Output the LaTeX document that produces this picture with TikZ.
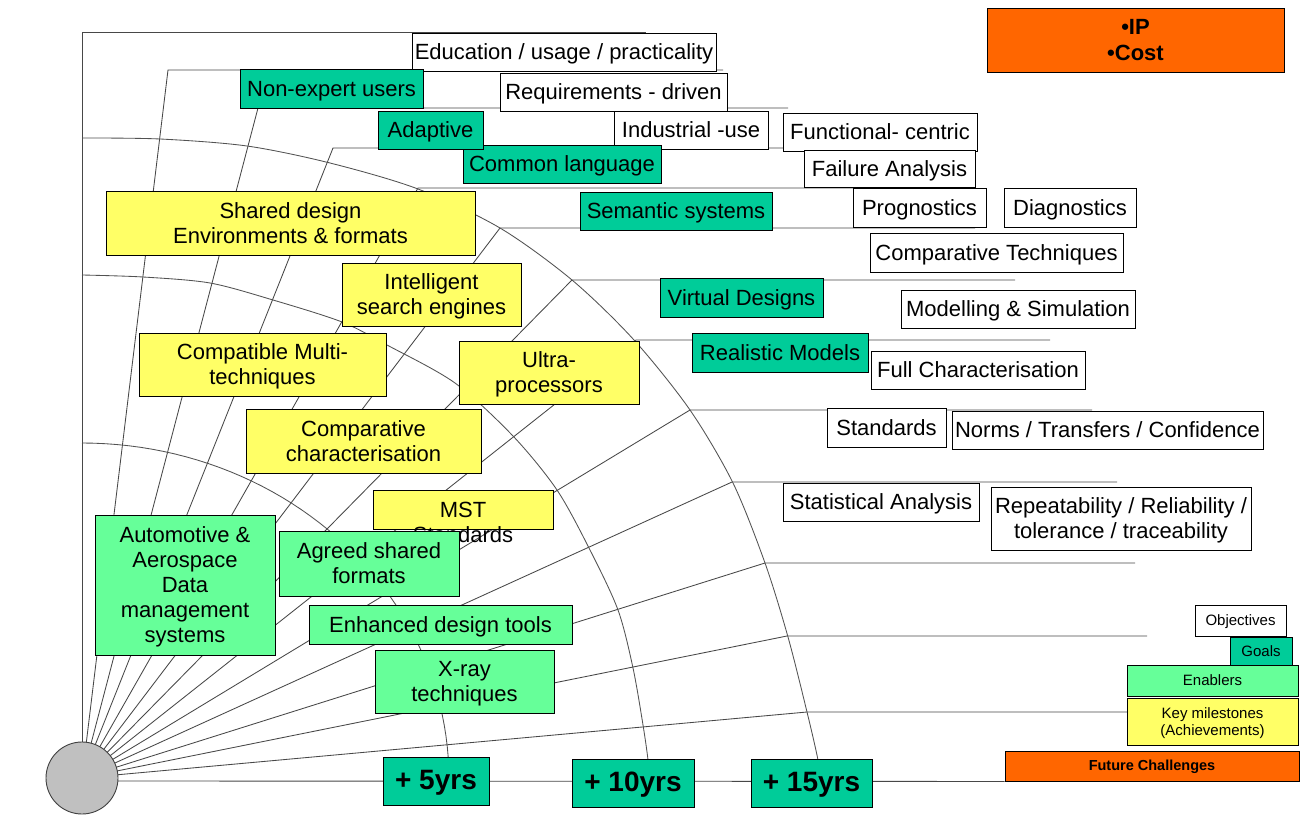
\documentclass[tikz,border=0pt]{standalone}
\usepackage{fontspec}
\setmainfont{Liberation Sans}
\definecolor{cteal}{HTML}{00CC99}
\definecolor{cgreen}{HTML}{66FF99}
\definecolor{cyellow}{HTML}{FFFF66}
\definecolor{corange}{HTML}{FF6600}
\definecolor{chub}{HTML}{C0C0C0}
\newcommand\lstrut{\rule[-0.212em]{0pt}{1.117em}}
\newcommand\mybox[7]{\node[#1, minimum width={#5-#3}, minimum height={#6-#4}] (#2) at ({(#3+#5)/2},{(#4+#6)/2}) {\lstrut#7};}
\begin{document}
\begin{tikzpicture}[x=1pt,y=-1pt,
  box/.style={draw=black, line width=0.9pt, inner sep=0pt, align=center, text=black, font=\fontsize{22}{25}\selectfont, execute at end node=\lstrut},
  wbox/.style={box, fill=white},
  tbox/.style={box, fill=cteal},
  gbox/.style={box, fill=cgreen},
  ybox/.style={box, fill=cyellow},
  obox/.style={box, fill=corange},
  small/.style={font=\fontsize{15}{17}\selectfont},
  yearbox/.style={tbox, font=\fontsize{28}{30}\selectfont\bfseries, text height=21.5, text depth=5.5},
  spoke/.style={draw=black!72, line width=0.85pt},
  arcline/.style={draw=black!68, line width=0.85pt}]
\useasboundingbox (0,0) rectangle (1300,818);
\fill[white] (0,0) rectangle (1300,818);

% hub and spoke end points
\coordinate (hub) at (82,778);
\coordinate (s1) at (82,32);   \coordinate (e1) at (646,32);
\coordinate (s2) at (168,70);  \coordinate (e2) at (723,70);
\coordinate (s3) at (258,108); \coordinate (e3) at (788,108);
\coordinate (s4) at (333,148); \coordinate (e4) at (805,148);
\coordinate (s5) at (418,188); \coordinate (e5) at (925,188);
\coordinate (s6) at (500,228); \coordinate (e6) at (975,228);
\coordinate (s7) at (572,280); \coordinate (e7) at (1015,280);
\coordinate (s8) at (636,340); \coordinate (e8) at (1050,340);
\coordinate (s9) at (690,410); \coordinate (e9) at (1092,410);
\coordinate (s10) at (732,482); \coordinate (e10) at (1117,482);
\coordinate (s11) at (765,563); \coordinate (e11) at (1135,563);
\coordinate (s12) at (787,636); \coordinate (e12) at (1147,636);
\coordinate (s13) at (807,712); \coordinate (e13) at (1127,712);
\coordinate (h14) at (82,781);

\foreach \i in {1,...,13} \draw[spoke] (hub) -- (s\i) -- (e\i);

% arcs (+15, +10, +5 years)
\draw[arcline] plot[smooth] coordinates {(82,138) (160,139) (247,146) (330,163) (418,189) (500,228) (572,280) (634,340) (690,410) (733,483) (765,563) (788,637) (807,712) (818,760) (820,779)};
\draw[arcline] plot[smooth] coordinates {(82,275) (143,277) (210,283) (273,300) (342,322) (387,345) (455,383) (513,436) (557,490) (590,550) (618,610) (633,668) (643,725) (648,760) (649,779)};
\draw[arcline] plot[domain=0:90, samples=50] ({82+367*cos(\x)}, {779-336*sin(\x)});

% white boxes (objectives)
\mybox{wbox}{edu}{412}{33}{716}{71}{Education / usage / practicality}
\mybox{wbox}{req}{500}{73}{727}{111}{Requirements - driven}
\mybox{wbox}{ind}{614}{111}{768}{149}{Industrial -use}
\mybox{wbox}{func}{783}{113}{977}{151}{Functional- centric}
\mybox{wbox}{fail}{804}{150}{975}{187}{Failure Analysis}
\mybox{wbox}{prog}{853}{188}{986}{227}{Prognostics}
\mybox{wbox}{diag}{1004}{188}{1136}{227}{Diagnostics}
\mybox{wbox}{comptech}{870}{233}{1123}{272}{Comparative Techniques}
\mybox{wbox}{model}{901}{290}{1135}{328}{Modelling \& Simulation}
\mybox{wbox}{fullchar}{871}{351}{1085}{389}{Full Characterisation}
\mybox{wbox}{std}{827}{408}{946}{447}{Standards}
\mybox{wbox}{norms}{952}{411}{1263}{449}{Norms / Transfers / Confidence}
\mybox{wbox}{stat}{783}{483}{979}{521}{Statistical Analysis}
\mybox{wbox}{rep}{991}{487}{1251}{550}{Repeatability / Reliability /\\tolerance / traceability}

% teal boxes (goals)
\mybox{tbox}{nonexp}{240}{69}{423}{108}{Non-expert users}
\mybox{tbox}{common}{463}{145}{661}{183}{Common language}
\mybox{tbox}{adapt}{378}{111}{483}{149}{Adaptive}
\mybox{tbox}{sem}{580}{192}{772}{230}{Semantic systems}
\mybox{tbox}{virt}{660}{278}{823}{317}{Virtual Designs}
\mybox{tbox}{real}{692}{333}{868}{372}{Realistic Models}

% yellow boxes (key milestones)
\mybox{ybox}{shared}{106}{191}{475}{255}{Shared design\\Environments \& formats}
\mybox{ybox}{intel}{342}{263}{521}{326}{Intelligent\\search engines}
\mybox{ybox}{compat}{139}{333}{386}{396}{Compatible Multi-\\techniques}
\mybox{ybox}{ultra}{459}{341}{639}{404}{Ultra-\\processors}
\mybox{ybox}{compchar}{246}{409}{481}{473}{Comparative\\characterisation}
\node[ybox, minimum width=180, minimum height=39] (mst) at (463,509.5) {};
\node[box, draw=none, fill=none] (mstlabel) at (463,522) {\lstrut MST\\Standards};

% light green boxes (enablers)
\mybox{gbox}{auto}{95}{515}{275}{655}{Automotive \&\\Aerospace\\Data\\management\\systems}
\mybox{gbox}{agreed}{279}{531}{459}{596}{Agreed shared\\formats}
\mybox{gbox}{enh}{309}{605}{572}{644}{Enhanced design tools}
\mybox{gbox}{xray}{375}{650}{554}{713}{X-ray\\techniques}

% orange
\mybox{obox,font=\fontsize{22}{26}\selectfont\bfseries}{ipcost}{987}{8}{1284}{72}{•IP\\•Cost}

% legend
\mybox{wbox,small,text height=13,text depth=3}{obj}{1195}{605}{1286}{636}{Objectives}
\mybox{tbox,small,text height=13,text depth=3}{goals}{1230}{637}{1292}{665}{Goals}
\mybox{gbox,small,text height=13,text depth=3}{enab}{1127}{665}{1298}{696}{Enablers}
\mybox{ybox,small}{keyms}{1127}{698}{1298}{745}{Key milestones\\(Achievements)}
\mybox{obox,font=\fontsize{14.5}{16}\selectfont\bfseries,text height=12.5,text depth=3.5}{fc}{1005}{751}{1299}{781}{Future Challenges}

% time axis
\draw[spoke] (h14) -- (fc.south west);
\mybox{yearbox}{y5}{383}{757}{489}{805}{+ 5yrs}
\mybox{yearbox}{y10}{572}{759}{694}{807}{+ 10yrs}
\mybox{yearbox}{y15}{751}{759}{872}{807}{+ 15yrs}

% hub
\node[circle, draw=black!75, line width=0.9pt, fill=chub, minimum size=72pt, inner sep=0pt] (hubnode) at (hub) {};
\end{tikzpicture}
\end{document}
